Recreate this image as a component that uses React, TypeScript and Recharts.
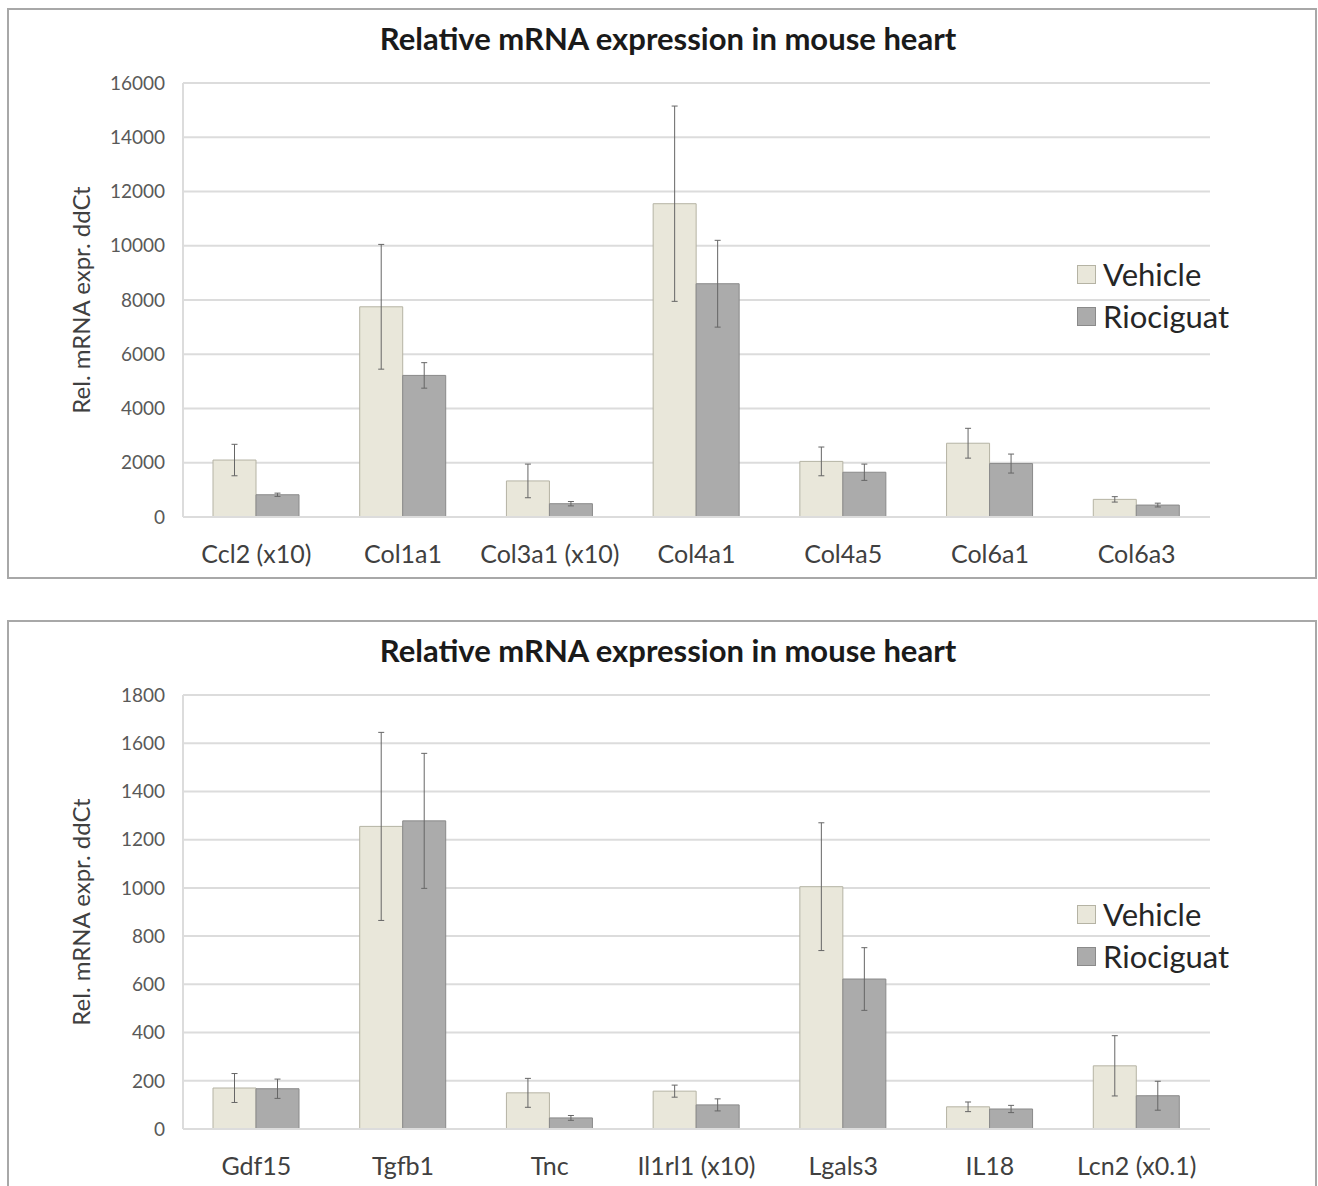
import React from "react";
import {
    Bar,
    BarChart,
    CartesianGrid,
    ErrorBar,
    XAxis,
    YAxis,
} from "recharts";

const categoriesTop = ["Ccl2 (x10)", "Col1a1", "Col3a1 (x10)", "Col4a1", "Col4a5", "Col6a1", "Col6a3"];
const vehicleTop = [2100, 7750, 1330, 11550, 2050, 2720, 650];
const vehicleErrTop = [580, 2300, 620, 3600, 530, 550, 100];
const riociguatTop = [820, 5220, 490, 8600, 1650, 1970, 440];
const riociguatErrTop = [60, 470, 80, 1600, 300, 350, 70];
const ticksTop = [0, 2000, 4000, 6000, 8000, 10000, 12000, 14000, 16000];

const categoriesBottom = ["Gdf15", "Tgfb1", "Tnc", "Il1rl1 (x10)", "Lgals3", "IL18", "Lcn2 (x0.1)"];
const vehicleBottom = [170, 1255, 150, 157, 1005, 92, 262];
const vehicleErrBottom = [60, 390, 60, 25, 265, 20, 125];
const riociguatBottom = [167, 1278, 46, 100, 622, 83, 138];
const riociguatErrBottom = [40, 280, 10, 25, 130, 15, 60];
const ticksBottom = [0, 200, 400, 600, 800, 1000, 1200, 1400, 1600, 1800];

const TITLE = "Relative mRNA expression in mouse heart";
const Y_LABEL = "Rel. mRNA expr. ddCt";
const FONT = "Lato, 'Liberation Sans', sans-serif";

const VEHICLE_FILL = "#e9e7da";
const VEHICLE_STROKE = "#b5b3a4";
const RIO_FILL = "#ababab";
const RIO_STROKE = "#8a8a8a";
const GRID = "#dcdcdc";

// legend sits over the plot on the right, like the Excel original
function LegendBox({ top }: { top: number }) {
    const items = [
        { name: "Vehicle", fill: VEHICLE_FILL, stroke: VEHICLE_STROKE },
        { name: "Riociguat", fill: RIO_FILL, stroke: RIO_STROKE },
    ];
    return (
        <div style={{ position: "absolute", left: 1077, top, fontFamily: FONT }}>
            {items.map((it) => (
                <div
                    key={it.name}
                    style={{ display: "flex", alignItems: "center", height: 42 }}
                >
                    <span
                        style={{
                            width: 17,
                            height: 17,
                            background: it.fill,
                            border: `1px solid ${it.stroke}`,
                            marginRight: 7,
                        }}
                    />
                    <span style={{ fontSize: 31, color: "#262626" }}>{it.name}</span>
                </div>
            ))}
        </div>
    );
}

interface PanelProps {
    top: number;
    categories: string[];
    vehicle: number[];
    vehicleErr: number[];
    riociguat: number[];
    riociguatErr: number[];
    ticks: number[];
    legendTop: number;
    lastPanel?: boolean;
}

function Panel(p: PanelProps) {
    const data = p.categories.map((c, i) => ({
        name: c,
        vehicle: p.vehicle[i],
        vErr: p.vehicleErr[i],
        riociguat: p.riociguat[i],
        rErr: p.riociguatErr[i],
    }));
    const max = p.ticks[p.ticks.length - 1];

    return (
        <div style={{ position: "absolute", left: 0, top: p.top, width: 1318, height: 580 }}>
            <div
                style={{
                    position: "absolute",
                    left: 7,
                    top: 8,
                    width: 1306,
                    height: p.lastPanel ? 600 : 567,
                    border: "2px solid #a8a8a8",
                    borderBottom: p.lastPanel ? "none" : "2px solid #a8a8a8",
                }}
            />
            <div
                style={{
                    position: "absolute",
                    left: 368,
                    top: 19,
                    width: 600,
                    textAlign: "center",
                    fontFamily: FONT,
                    fontWeight: 700,
                    fontSize: 31,
                    color: "#1a1a1a",
                }}
            >
                {TITLE}
            </div>
            <div
                style={{
                    position: "absolute",
                    left: 80,
                    top: 300,
                    transform: "translate(-50%, -50%) rotate(-90deg)",
                    whiteSpace: "nowrap",
                    fontFamily: FONT,
                    fontSize: 24,
                    color: "#404040",
                }}
            >
                {Y_LABEL}
            </div>
            <div style={{ position: "absolute", left: 0, top: 0 }}>
                <BarChart
                    width={1318}
                    height={580}
                    data={data}
                    margin={{ top: 83, right: 108, left: 83, bottom: 23 }}
                    barSize={43}
                    barGap={0}
                >
                    <CartesianGrid vertical={false} stroke={GRID} strokeWidth={2} />
                    <XAxis
                        dataKey="name"
                        height={40}
                        tickLine={false}
                        axisLine={{ stroke: GRID, strokeWidth: 2 }}
                        tickMargin={22}
                        tick={{ fill: "#404040", fontSize: 25, fontFamily: FONT }}
                        interval={0}
                    />
                    <YAxis
                        width={100}
                        domain={[0, max]}
                        ticks={p.ticks}
                        interval={0}
                        tickLine={false}
                        axisLine={{ stroke: GRID, strokeWidth: 2 }}
                        tickMargin={12}
                        tick={{ fill: "#595959", fontSize: 19, fontFamily: FONT }}
                    />
                    <Bar
                        dataKey="vehicle"
                        name="Vehicle"
                        fill={VEHICLE_FILL}
                        stroke={VEHICLE_STROKE}
                        strokeWidth={1}
                        isAnimationActive={false}
                    >
                        <ErrorBar dataKey="vErr" width={3} stroke="#666" strokeWidth={1} direction="y" />
                    </Bar>
                    <Bar
                        dataKey="riociguat"
                        name="Riociguat"
                        fill={RIO_FILL}
                        stroke={RIO_STROKE}
                        strokeWidth={1}
                        isAnimationActive={false}
                    >
                        <ErrorBar dataKey="rErr" width={3} stroke="#666" strokeWidth={1} direction="y" />
                    </Bar>
                </BarChart>
            </div>
            <LegendBox top={p.legendTop} />
        </div>
    );
}

export default function App() {
    return (
        <div
            style={{
                position: "absolute",
                left: 0,
                top: 0,
                width: 1318,
                height: 1186,
                overflow: "hidden",
                background: "#fff",
            }}
        >
            <Panel
                top={0}
                categories={categoriesTop}
                vehicle={vehicleTop}
                vehicleErr={vehicleErrTop}
                riociguat={riociguatTop}
                riociguatErr={riociguatErrTop}
                ticks={ticksTop}
                legendTop={253}
            />
            <Panel
                top={612}
                categories={categoriesBottom}
                vehicle={vehicleBottom}
                vehicleErr={vehicleErrBottom}
                riociguat={riociguatBottom}
                riociguatErr={riociguatErrBottom}
                ticks={ticksBottom}
                legendTop={281}
                lastPanel
            />
        </div>
    );
}
